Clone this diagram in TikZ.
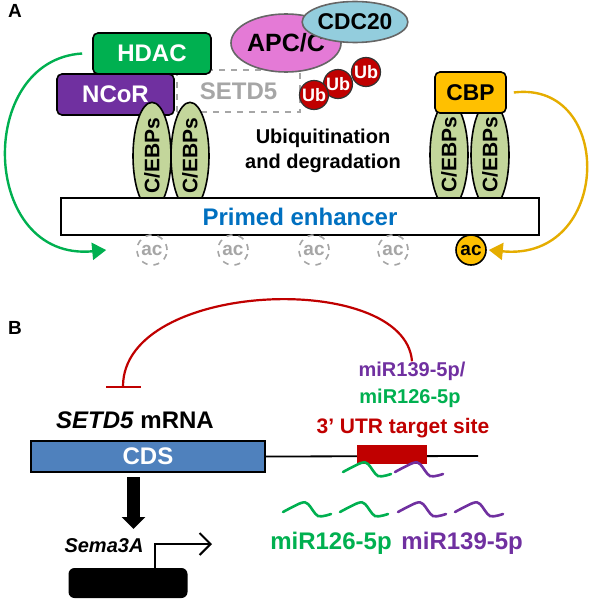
\documentclass[tikz,border=0pt]{standalone}
\usepackage{fontspec}
\setmainfont{Liberation Sans}
\usetikzlibrary{arrows,arrows.meta,calc,positioning,shapes.geometric}

\definecolor{hdacgreen}{HTML}{00B050}
\definecolor{ncorpurple}{HTML}{7030A0}
\definecolor{apcpink}{HTML}{E47AD6}
\definecolor{cdcblue}{HTML}{93CDDD}
\definecolor{ubred}{HTML}{C00000}
\definecolor{cebpgreen}{HTML}{C3D69B}
\definecolor{cbporange}{HTML}{FFC000}
\definecolor{enhblue}{HTML}{0070C0}
\definecolor{cdsblue}{HTML}{4F81BD}
\definecolor{acgrey}{HTML}{A6A6A6}
\newcommand{\fsz}[1]{\fontsize{#1}{#1}\selectfont\bfseries}

\begin{document}
\begin{tikzpicture}[x=0.5pt,y=-0.5pt,>=stealth',node distance=1pt,
	rbox/.style={rounded corners=2.5pt,draw=black,line width=0.8pt,minimum height=20.5pt,inner sep=0pt,text=white,font=\fsz{12}},
	blob/.style={ellipse,draw=black!60,line width=0.8pt,inner sep=0pt,font=\fsz{12}},
	cebp/.style={ellipse,draw=black,line width=0.8pt,fill=cebpgreen,rotate=90,minimum width=41pt,minimum height=19pt,inner sep=0pt,font=\fsz{10.5}},
	ub/.style={circle,draw=black!80,line width=0.6pt,fill=ubred,minimum size=14.5pt,inner sep=0pt,text=white,font=\fsz{9}},
	acmark/.style={circle,minimum size=15pt,inner sep=0pt,line width=0.8pt,font=\fsz{9.5}},
	strand/.style={line width=1.3pt,line cap=round},
	label/.style={inner sep=0pt,font=\fsz{9.5}}]
	\useasboundingbox (0,0) rectangle (590,599);

	% panel A
	\node[label] (A) at (15,11) {A};
	\node[draw=acgrey,dashed,line width=1pt,minimum width=61.5pt,minimum height=21pt,inner sep=0pt,text=acgrey,font=\fsz{12}] (setd5) at (238.5,91) {SETD5};
	\node[rbox,fill=hdacgreen,minimum width=59pt] (hdac) at (152,53.5) {HDAC};
	\node[rbox,fill=ncorpurple,minimum width=58.5pt] (ncor) at (115.5,94.5) {NCoR};
	\node[blob,fill=apcpink,minimum width=49pt,minimum height=29pt,font=\fsz{12.5}] (apc) at (286,43) {APC/C};
	\node[blob,fill=cdcblue,minimum width=43pt,minimum height=20.5pt,font=\fsz{11.4}] (cdc20) at (355,22) {CDC20};
	\node[ub] (ub3) at (366,72) {Ub};
	\node[ub] (ub2) at (338,84) {Ub};
	\node[ub] (ub1) at (314,95) {Ub};
	\node[align=center,inner sep=0pt,font=\fontsize{10}{12.5}\selectfont\bfseries] (ubtext) at (323,151) {Ubiquitination\\and degradation};

	\node[cebp] (cebp1) at (152,156) {C/EBPs};
	\node[cebp] (cebp2) at (190,156) {C/EBPs};
	\node[cebp] (cebp3) at (449,155) {C/EBPs};
	\node[cebp] (cebp4) at (490,155) {C/EBPs};
	\node[rbox,fill=cbporange,minimum width=35.5pt,text=black,font=\fsz{11.4}] (cbp) at (470.5,92.5) {CBP};

	\node[draw=black,line width=0.8pt,fill=white,minimum width=239pt,minimum height=18.5pt,inner sep=0pt,text=enhblue,font=\fsz{12}] (enh) at (300,216.5) {Primed enhancer};

	\foreach \x [count=\i] in {152,233,314,393}
		\node[acmark,draw=acgrey,dashed,text=acgrey] (ac\i) at (\x,250) {ac};
	\node[acmark,draw=black,fill=cbporange] (ac5) at (471,250) {ac};

	\draw[hdacgreen,line width=1.2pt,-{Triangle[length=7pt,width=8.5pt]}]
		([xshift=-5pt]hdac.west) .. controls (-25,60) and (-20,262) .. ([xshift=-15pt]ac1.west);
	\draw[cbporange!90!black,line width=1.2pt,-{Triangle[length=7pt,width=8.5pt]}]
		([xshift=3.5pt]cbp.east) .. controls (615,80) and (612,262) .. ([xshift=1pt]ac5.east);

	% panel B
	\node[label] (B) at (15,328) {B};
	\node[draw=black,line width=0.8pt,fill=cdsblue,minimum width=117pt,minimum height=15.5pt,inner sep=0pt,text=white,font=\fsz{12}] (cds) at (148,456.5) {CDS};
	\node[inner sep=0pt,font=\fsz{12}] (mrna) at (135,420) {\textit{SETD5} mRNA};
	\coordinate (utrend) at (478,456);
	\draw[line width=0.9pt] (cds.east) -- (utrend);
	\node[fill=ubred,minimum width=35pt,minimum height=9.5pt,inner sep=0pt] (utr) at (392,454.5) {};
	\node[inner sep=0pt,text=ubred,font=\fsz{10.5}] (utrlabel) at (403,428) {3’ UTR target site};
	\node[inner sep=0pt,text=ncorpurple,font=\fsz{10}] (mirA) at (412,371) {miR139-5p/};
	\node[inner sep=0pt,text=hdacgreen,font=\fsz{10}] (mirB) at (410,398) {miR126-5p};
	\coordinate (tbar) at (123,388);
	\draw[ubred,line width=1.1pt,{Bar[width=17.5pt]}-]
		(tbar) .. controls (123,280) and (405,270) .. (mirA.north);

	\draw[line width=6.5pt,-{Triangle[length=6pt,width=11.5pt]}] (133.5,477) -- (133.5,529);
	\node[inner sep=0pt,font=\fsz{10}\itshape] (sema) at (104,546) {Sema3A};
	\node[fill=black,rounded corners=3pt,minimum width=59.5pt,minimum height=15pt,inner sep=0pt] (gene) at (128,583) {};
	\draw[line width=1pt,-{Straight Barb[length=5.5pt,width=11pt]}]
		([xshift=13.5pt]gene.north) |- (212,544);

	% miRNA strands
	\foreach \x/\y/\col in {343/463/hdacgreen,395/463/ncorpurple,283/503/hdacgreen,340/503/hdacgreen,398/503/ncorpurple,455/503/ncorpurple}
		\draw[strand,\col] plot[smooth,tension=0.55] coordinates {(\x,\y+9) (\x+18,\y) (\x+25,\y+1) (\x+35,\y+13) (\x+48,\y+11)};
	\node[inner sep=0pt,text=hdacgreen,font=\fsz{12}] (free126) at (331,543) {miR126-5p};
	\node[inner sep=0pt,text=ncorpurple,font=\fsz{12}] (free139) [right=4.5pt of free126] {miR139-5p};
\end{tikzpicture}
\end{document}
